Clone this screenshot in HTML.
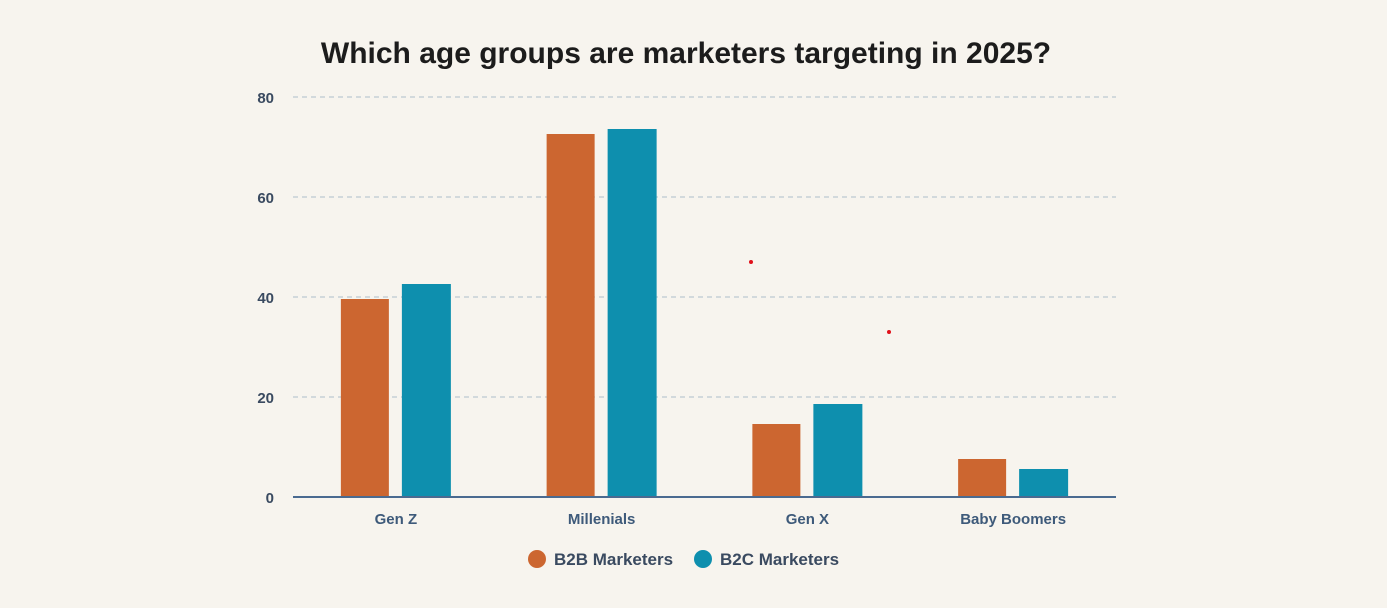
<!DOCTYPE html>
<html><head><meta charset="utf-8"><style>
html,body{margin:0;padding:0;background:#f7f4ee;}
svg{display:block;font-family:"Liberation Sans",sans-serif;}
</style></head><body>
<svg width="1387" height="608">
<text x="686" y="63" text-anchor="middle" font-size="30" font-weight="bold" fill="#1c1c1c">Which age groups are marketers targeting in 2025?</text>
<g id="grid"></g><g id="bars"></g><g id="xl"></g>
<circle cx="751" cy="262" r="2" fill="#e0101a"/>
<circle cx="889" cy="332" r="2" fill="#e0101a"/>
<g>
<circle cx="537" cy="559" r="9" fill="#cc6630"/>
<text x="554" y="565" font-size="17" font-weight="bold" fill="#3a4a60">B2B Marketers</text>
<circle cx="703" cy="559" r="9" fill="#0e8fae"/>
<text x="720" y="565" font-size="17" font-weight="bold" fill="#3a4a60">B2C Marketers</text>
</g>
</svg>
<script>
const categories=["Gen Z","Millenials","Gen X","Baby Boomers"];
const b2b=[39.6,72.6,14.6,7.6];
const b2c=[42.6,73.6,18.6,5.6];
const ticks=[0,20,40,60,80];
const NS="http://www.w3.org/2000/svg";
const x0=293,x1=1116,yZero=497,yTop=97;
const y=v=>yZero-(yZero-yTop)*v/80;
const band=(x1-x0)/categories.length;
function mk(t,a,p){const e=document.createElementNS(NS,t);for(const k in a)e.setAttribute(k,a[k]);p.appendChild(e);return e;}
const g=document.getElementById('grid');
ticks.forEach(t=>{
 if(t>0){const l=mk('line',{x1:x0,x2:x1,y1:y(t),y2:y(t),stroke:'#c5d0d6','stroke-width':1.5,'stroke-dasharray':'5,4'},g);
 
 }
 const tx=mk('text',{x:274,y:y(t)+6,'text-anchor':'end','font-size':15,'font-weight':'bold',fill:'#3a4a60'},g);
 tx.textContent=t;
 
 
});
const b=document.getElementById('bars');
const xl=document.getElementById('xl');
categories.forEach((c,i)=>{
 const cx=x0+band*(i+0.5);
 const r1=mk('rect',{x:cx-55,y:y(b2b[i]),width:48,height:yZero-y(b2b[i]),fill:'#cc6630'},b);
 
 
 const r2=mk('rect',{x:cx+6,y:y(b2c[i]),width:49,height:yZero-y(b2c[i]),fill:'#0e8fae'},b);
 
 
 const t=mk('text',{x:cx,y:524,'text-anchor':'middle','font-size':15,'font-weight':'bold',fill:'#3e5a7a'},xl);
 t.textContent=c;
 
 
});
const ax=mk('line',{x1:x0,x2:x1,y1:497,y2:497,stroke:'#4a6a90','stroke-width':2},xl);


</script>
</body></html>
